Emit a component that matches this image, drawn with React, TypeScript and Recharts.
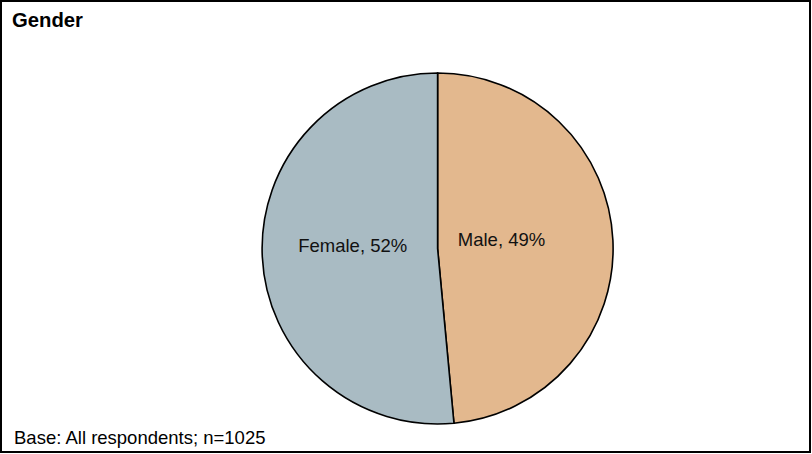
import React from 'react';
import { PieChart, Pie, Cell } from 'recharts';

const categories = ['Male', 'Female'];
const shares = [49, 52];
const title = 'Gender';
const baseNote = 'Base: All respondents; n=1025';

const COLORS = ['#E3B88E', '#A9BBC3'];
// inner label distance from centre, per slice
const LABEL_RADIUS = [64, 85];
const FONT = '"Liberation Sans", Arial, sans-serif';

const data = categories.map((name, i) => ({ name, value: shares[i] }));

const RADIAN = Math.PI / 180;

const renderLabel = (props: any) => {
  const { cx, cy, midAngle, index, name, value } = props;
  const r = LABEL_RADIUS[index] ?? 70;
  const x = cx + r * Math.cos(-midAngle * RADIAN);
  const y = cy + r * Math.sin(-midAngle * RADIAN);
  return (
    <text x={x} y={y} textAnchor="middle" fill="#111" fontSize={18.5} fontFamily={FONT}>
      {`${name}, ${value}%`}
    </text>
  );
};

const App: React.FC = () => {
  return (
    <div
      style={{
        position: 'fixed',
        left: 0,
        top: 0,
        width: 811,
        height: 453,
        border: '2px solid #000',
        boxSizing: 'border-box',
        background: '#fff',
        fontFamily: FONT,
      }}
    >
      <div style={{ position: 'absolute', left: 10, top: 7, fontSize: 20.3, fontWeight: 700, color: '#000' }}>
        {title}
      </div>
      <div style={{ position: 'absolute', left: 0, top: 0 }}>
        <PieChart width={807} height={449} margin={{ top: 0, right: 0, bottom: 0, left: 0 }}>
          <Pie
            data={data}
            dataKey="value"
            nameKey="name"
            cx={435.6}
            cy={246.5}
            outerRadius={175.5}
            innerRadius={0}
            startAngle={90}
            endAngle={-270}
            stroke="#000"
            strokeWidth={1.6}
            label={renderLabel}
            labelLine={false}
            isAnimationActive={false}
          >
            {data.map((entry, idx) => (
              <Cell key={`cell-${idx}`} fill={COLORS[idx % COLORS.length]} />
            ))}
          </Pie>
        </PieChart>
      </div>
      <div style={{ position: 'absolute', left: 12, top: 425, fontSize: 18.5, color: '#000' }}>
        {baseNote}
      </div>
    </div>
  );
};

export default App;
